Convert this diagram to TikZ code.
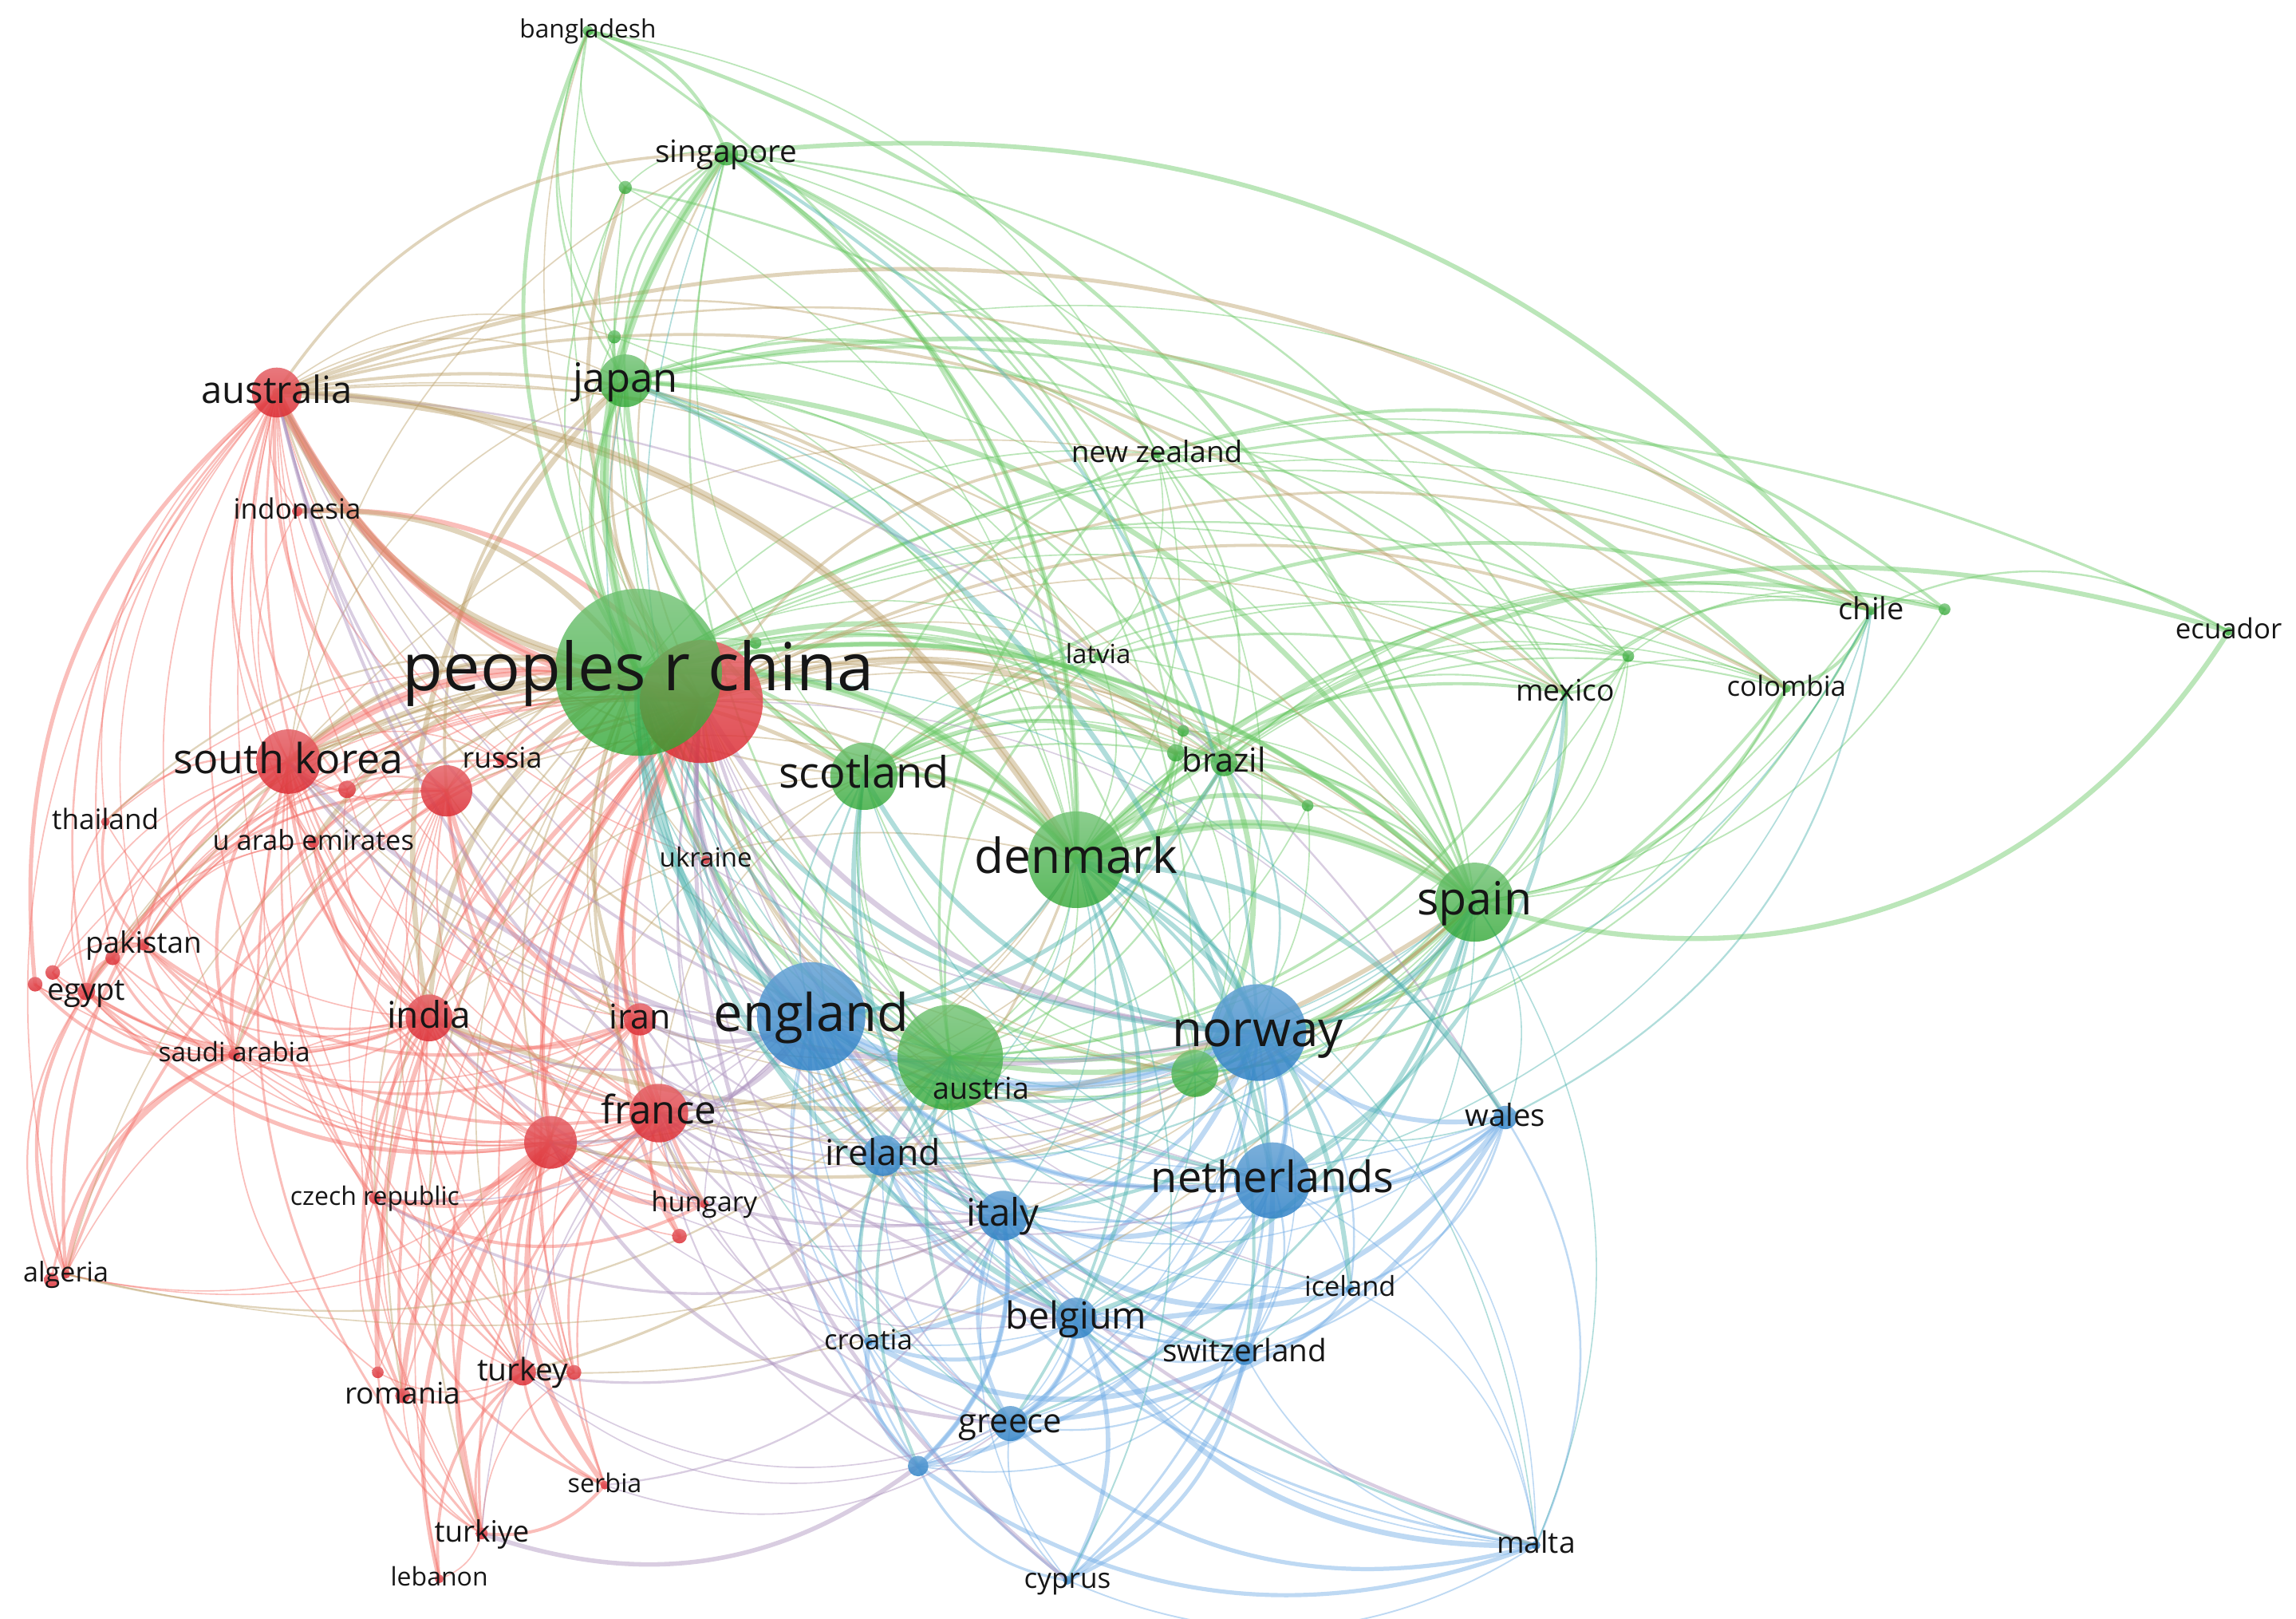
\documentclass[tikz,border=0pt]{standalone}
\usepackage{fontspec}
\setmainfont{Open Sans}

\definecolor{nodered}{RGB}{220,45,52}
\definecolor{nodegreen}{RGB}{44,165,48}
\definecolor{nodeblue}{RGB}{48,130,198}
\definecolor{edgered}{RGB}{244,112,104}
\definecolor{edgegreen}{RGB}{105,200,100}
\definecolor{edgeblue}{RGB}{112,172,230}
\definecolor{edgerg}{RGB}{188,160,105}
\definecolor{edgerb}{RGB}{172,146,190}
\definecolor{edgegb}{RGB}{80,180,176}
\definecolor{labelgray}{RGB}{22,22,22}

% curved link, bent away from the middle of the map
\newdimen\lkax \newdimen\lkay \newdimen\lkbx \newdimen\lkby
\newdimen\lkcx \newdimen\lkcy
\def\bendang{28}
\newcommand{\vlink}[3]{%
  \pgfextractx{\lkax}{\pgfpointanchor{#2}{center}}%
  \pgfextracty{\lkay}{\pgfpointanchor{#2}{center}}%
  \pgfextractx{\lkbx}{\pgfpointanchor{#3}{center}}%
  \pgfextracty{\lkby}{\pgfpointanchor{#3}{center}}%
  \pgfextractx{\lkcx}{\pgfpointanchor{mid}{center}}%
  \pgfextracty{\lkcy}{\pgfpointanchor{mid}{center}}%
  \pgfmathsetmacro\lkturn{((\lkbx-\lkax)/100)*((\lkcy-\lkay)/100)-((\lkby-\lkay)/100)*((\lkcx-\lkax)/100) > 0 ? -\bendang : \bendang}%
  \pgfmathsetmacro\lkw{0.45+1.5*rnd^3}%
  \draw[line width=\lkw pt, #1] (#2) to[bend left=\lkturn] (#3);%
}

\begin{document}
\begin{tikzpicture}[
    x=0.018355cm, y=-0.018355cm,
    link/.style={draw opacity=0.45, line cap=round},
    rr/.style={link, draw=edgered},
    gg/.style={link, draw=edgegreen},
    bb/.style={link, draw=edgeblue},
    rg/.style={link, draw=edgerg},
    rb/.style={link, draw=edgerb},
    gb/.style={link, draw=edgegb},
    wide/.style={line width=1.8pt},
    heavy/.style={line width=3.2pt},
    lab/.style={text=labelgray, inner sep=0pt, anchor=base}
  ]

  \pgfmathsetseed{11}
  \fill[white] (0,0) rectangle (1568,1105);
  \path[use as bounding box] (0,0) rectangle (1568,1105);
  \coordinate (mid) at (700,600);

  % =====================================================
  % NODE POSITIONS  (name/x/y/radius)
  % =====================================================
  \def\redlist{r0/479/479/42, aus/189/268/17, idn/203/349/3.5,
    kor/197/520/22, rus/343/519/4, r1/305/540/17.5, r2/237/539/6,
    tha/72/561/3, are/214/575/4, pak/98/645/4, r3/77/654/5,
    r4/36/664/5, r5/24/672/5, egy/59/677/6, sau/160/720/4,
    ind/293/695/16, irn/437/696/11, fra/450/760/20, r6/376/780/18,
    cze/256/818/4, hun/481/822/3, r7/464/844/5, dza/45/870/3,
    r8/35/874/5, tur/357/937/9, r9/392/937/5, r10/258/937/4,
    rou/275/953/5, srb/413/1014/3, tky/329/1047/4, lbn/300/1078/3,
    ukr/482/587/3}
  \def\greenlist{chn/436/459/57, bgd/401.5/21/3.5, sgp/496/105/8,
    g1/427/128/4.5, g2/419.5/230/4.5, jpn/427/260/18, nzl/790/310/3,
    lva/750/448/3, g3/1112/448/4, mex/1069/473/3, col/1220/470/3,
    chl/1278/417/3, g4/1328/416/4, ecu/1522/431/3, g5/808/499/4,
    g6/803/514/6, bra/836/521/9, g7/893/550/4, g10/516/439/4,
    sco/590/530/23, dnk/735/587/33, esp/1007/616/27, g8/649/722/36,
    aut/670/745/3, g9/816/733/16}
  \def\bluelist{eng/554/694/37, nor/859/705/33, wal/1028/763/8,
    irl/603/789/14, nld/869/806/26, ita/685/830/17, isl/922/880/3,
    bel/735/900/14, che/850/924/8, hrv/593/916/3, grc/690/972/12,
    b1/627/1001/7, cyp/729/1079/3, mlt/1049/1055/3}

  \foreach \n/\x/\y/\r in \redlist {\coordinate (\n) at (\x,\y);}
  \foreach \n/\x/\y/\r in \greenlist {\coordinate (\n) at (\x,\y);}
  \foreach \n/\x/\y/\r in \bluelist {\coordinate (\n) at (\x,\y);}

  % =====================================================
  % LINKS INSIDE THE RED CLUSTER
  % =====================================================
  \foreach \a/\bs in {
    r0/{aus,idn,kor,rus,r1,r2,tha,are,pak,egy,sau,ind,irn,fra,r6,cze,hun,r7,dza,tur,r9,rou,srb,tky,ukr,r3,r10,lbn,r4},
    aus/{idn,kor,rus,r1,r2,tha,are,pak,egy,sau,ind,irn,fra,r6,cze,tur,ukr,dza,r3,r5},
    kor/{idn,rus,r1,r2,tha,are,pak,egy,sau,ind,irn,fra,r6,cze,hun,tur,r9,r3,r4,dza,tky},
    r1/{r2,pak,egy,sau,ind,irn,fra,r6,cze,hun,tur,tky,r9,are,rus},
    ind/{tha,are,pak,egy,sau,irn,fra,r6,cze,hun,tur,r9,rou,tky,dza,r3,r4,r5,r2},
    fra/{egy,sau,irn,r6,cze,hun,r7,dza,tur,r9,rou,srb,tky,r10,pak,are,r2},
    r6/{egy,sau,irn,cze,hun,r7,tur,r9,rou,srb,tky,lbn,dza,pak,r3,are},
    egy/{pak,r3,r4,r5,sau,dza,tha,are,r8,irn},
    pak/{tha,are,r3,r4,r2,rus,dza,irn},
    irn/{tur,hun,sau,r9},
    cze/{tur,rou,hun,srb},
    tur/{r9,rou,srb,tky,r10,lbn},
    tky/{lbn,rou,srb,r10,r9},
    sau/{pak,r3,r4,r5,are,dza,r10,r8}}
    {\foreach \b in \bs {\vlink{rr}{\a}{\b}}}

  % =====================================================
  % LINKS INSIDE THE GREEN CLUSTER
  % =====================================================
  \foreach \a/\bs in {
    chn/{bgd,sgp,g1,g2,jpn,nzl,lva,g3,mex,col,chl,g4,g5,bra,g6,g7,sco,dnk,esp,g8,aut,g9,g10,ecu},
    jpn/{bgd,sgp,g1,g2,sco,dnk,esp,g8,nzl,bra,g9,chl,mex,col,g3,lva},
    sgp/{bgd,g1,g2,sco,dnk,esp,g8,nzl,g9,bra,g5,chl,mex,g6},
    bgd/{g2,g1,dnk,g8,nzl,esp},
    g1/{dnk,esp,g8},
    g2/{dnk,sco,esp},
    dnk/{nzl,lva,g3,mex,col,chl,g4,g5,bra,g6,g7,esp,g8,aut,g9,sco,ecu},
    esp/{nzl,lva,g3,mex,col,chl,g4,g5,bra,g6,g7,g8,aut,g9,sco},
    sco/{nzl,lva,g3,mex,chl,bra,g6,g7,g8,g9,aut,g5,col},
    g8/{nzl,lva,g3,mex,col,chl,bra,g6,g7,g9,aut,g5},
    g9/{nzl,mex,chl,bra,g6,g7,g3,col},
    nzl/{chl,g3,mex,bra,g4,lva},
    bra/{mex,col,chl,g3,g6,g5},
    mex/{chl,col,g3,g4},
    chl/{col,g4,g3,ecu}}
    {\foreach \b in \bs {\vlink{gg}{\a}{\b}}}

  % =====================================================
  % LINKS INSIDE THE BLUE CLUSTER
  % =====================================================
  \foreach \a/\bs in {
    eng/{nor,wal,irl,nld,ita,isl,bel,che,hrv,grc,b1,cyp,mlt},
    nor/{wal,irl,nld,ita,isl,bel,che,hrv,grc,b1,cyp,mlt},
    nld/{wal,irl,ita,isl,bel,che,hrv,grc,b1,cyp,mlt},
    ita/{wal,irl,isl,bel,che,hrv,grc,b1,cyp,mlt},
    bel/{wal,irl,isl,che,hrv,grc,b1,cyp,mlt},
    grc/{wal,irl,che,hrv,b1,cyp,mlt},
    b1/{irl,hrv,cyp,mlt,che},
    wal/{isl,che,mlt,irl},
    che/{isl,mlt,cyp,hrv},
    mlt/{cyp,isl}}
    {\foreach \b in \bs {\vlink{bb}{\a}{\b}}}

  % =====================================================
  % LINKS BETWEEN CLUSTERS
  % =====================================================
  \foreach \a/\bs in {
    aus/{chn,jpn,sgp,sco,dnk,esp,g8,nzl,g9,bra,chl,mex,g2,g10,lva,col},
    r0/{chn,jpn,sgp,sco,dnk,esp,g8,g9,nzl,bra,mex,chl,col,lva,g5,g7,aut,bgd,g1,g6},
    kor/{chn,jpn,sco,dnk,esp,g8,sgp,g9,nzl},
    ind/{chn,dnk,esp,g8,sco,jpn},
    fra/{chn,dnk,esp,g8,sco,g9,bra},
    r6/{chn,dnk,esp,g8,sco},
    r1/{chn,dnk,g8,jpn},
    dza/{esp,g8},
    tur/{esp,dnk}}
    {\foreach \b in \bs {\vlink{rg}{\a}{\b}}}
  \foreach \b in {idn,rus,r2,tha,are,pak,egy,sau,irn,cze,hun,tur,rou,tky,ukr,dza,r3}
    {\vlink{rg}{chn}{\b}}

  \foreach \a/\bs in {
    r0/{eng,nor,nld,ita,bel,grc,irl,wal,che,isl,hrv,b1,mlt,cyp},
    fra/{eng,nor,nld,ita,bel,irl,grc,b1,hrv},
    aus/{eng,nor,nld,ita,bel,wal},
    kor/{eng,nor,nld},
    ind/{eng,nor,ita},
    r6/{eng,ita,grc,bel},
    tur/{eng,ita,grc,b1},
    irn/{eng,ita},
    hun/{eng,ita},
    cze/{eng,ita},
    srb/{ita,grc},
    tky/{eng,b1}}
    {\foreach \b in \bs {\vlink{rb}{\a}{\b}}}

  \foreach \a/\bs in {
    chn/{eng,nor,nld,ita,bel,irl,grc,wal,che,isl,mlt},
    dnk/{eng,nor,nld,ita,bel,irl,grc,wal,che,isl,mlt,cyp},
    esp/{eng,nor,nld,ita,bel,grc,wal,che,irl,mlt},
    g8/{eng,nor,nld,ita,bel,irl,grc,che,b1,hrv},
    sco/{eng,nor,nld,ita,bel,irl},
    g9/{eng,nor,nld,ita,bel,wal},
    jpn/{eng,nor,nld},
    sgp/{eng,nor},
    chl/{nor,nld,wal},
    bra/{eng,nor},
    mex/{nld,nor}}
    {\foreach \b in \bs {\vlink{gb}{\a}{\b}}}

  % =====================================================
  % STRONG LINKS
  % =====================================================
  \vlink{rg, heavy}{aus}{dnk}
  \vlink{rg, heavy}{aus}{chn}
  \vlink{rr, heavy}{aus}{r0}
  \vlink{rr, heavy}{kor}{r0}
  \vlink{rg, wide}{kor}{chn}
  \vlink{gg, heavy}{sgp}{chn}
  \vlink{gg, wide}{sgp}{dnk}
  \vlink{gg, wide}{jpn}{chn}
  \vlink{gg, heavy}{chn}{dnk}
  \vlink{gg, heavy}{dnk}{esp}
  \vlink{gg, wide}{chn}{esp}
  \vlink{gg, wide}{sco}{dnk}
  \draw[gg, wide] (esp) to[bend right=38] (ecu);
  \vlink{gb, heavy}{chn}{eng}
  \vlink{gb, wide}{dnk}{nor}
  \vlink{gb, wide}{esp}{nor}
  \vlink{bb, heavy}{eng}{nor}
  \vlink{bb, wide}{eng}{nld}
  \vlink{bb, wide}{nor}{nld}
  \vlink{bb, wide}{nld}{wal}
  \vlink{bb, wide}{bel}{grc}
  \vlink{bb, wide}{ita}{b1}
  \vlink{rr, wide}{r0}{fra}
  \vlink{rr, wide}{r0}{r6}
  \vlink{rb, wide}{r0}{eng}

  % =====================================================
  % NODES
  % =====================================================
  \foreach \n/\x/\y/\r in \redlist
    {\shade[top color=nodered!75!white, bottom color=nodered, opacity=0.85] (\n) circle (\r);}
  \foreach \n/\x/\y/\r in \greenlist
    {\shade[top color=nodegreen!70!white, bottom color=nodegreen, opacity=0.78] (\n) circle (\r);}
  \foreach \n/\x/\y/\r in \bluelist
    {\shade[top color=nodeblue!75!white, bottom color=nodeblue, opacity=0.85] (\n) circle (\r);}

  % =====================================================
  % LABELS  (name/text/size)
  % =====================================================
  \foreach \n/\t/\s in {chn/peoples r china/23.6, eng/england/18.5,
    nor/norway/17.6, dnk/denmark/17.2, esp/spain/16.3, sco/scotland/15.4,
    nld/netherlands/15.4, kor/south korea/14.8, jpn/japan/14.4,
    fra/france/14, ita/italy/13.5, aus/australia/13.4, bel/belgium/13.3,
    ind/india/13.1, irl/ireland/12.7, irn/iran/12.2, grc/greece/11.9,
    bra/brazil/11.8, tur/turkey/11.1, che/switzerland/11, sgp/singapore/11,
    wal/wales/10.9, egy/egypt/10.8, chl/chile/10.8, aut/austria/10.7,
    mex/mexico/10.6, rou/romania/10.6, mlt/malta/10.6, pak/pakistan/10.5,
    tky/turkiye/10.5, nzl/new zealand/10.5, rus/russia/10.2,
    tha/thailand/10, idn/indonesia/10, cyp/cyprus/10, ecu/ecuador/9.9,
    col/colombia/9.9, hrv/croatia/9.9, are/u arab emirates/9.8,
    hun/hungary/9.8, isl/iceland/9.8, dza/algeria/9.7,
    sau/saudi arabia/9.5, lva/latvia/9.4, ukr/ukraine/9.4,
    srb/serbia/9.2, cze/czech republic/9.1, lbn/lebanon/9.1,
    bgd/bangladesh/9}
    {\node[lab, font=\fontsize{\s}{\s}\selectfont, yshift=-0.28*\s pt] (\n-t) at (\n) {\t};}

\end{tikzpicture}
\end{document}
